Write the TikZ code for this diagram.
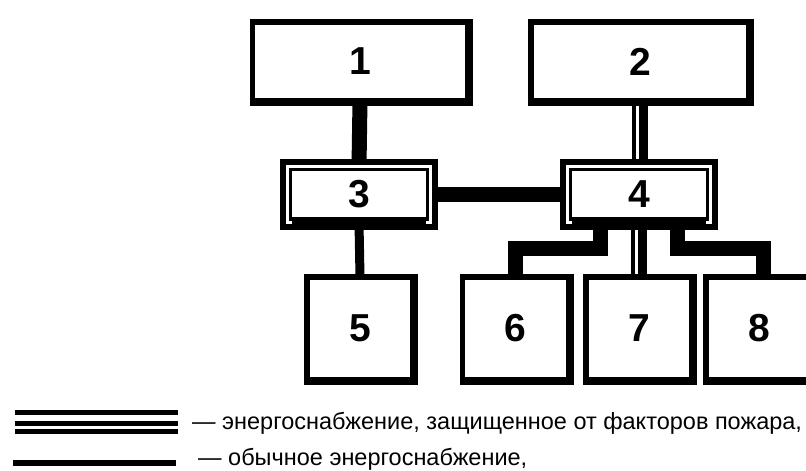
\documentclass[tikz,border=0pt]{standalone}
\usepackage{fontspec}
\setmainfont{Liberation Sans}
\usetikzlibrary{backgrounds}

\tikzset{
  unit/.style={draw, fill=white, line width=5.5pt, inner sep=0pt, outer sep=0pt,
    minimum width=106pt, minimum height=103pt, font=\fontsize{39}{39}\selectfont\bfseries},
  source/.style={unit, minimum width=215pt, minimum height=79pt},
  panel/.style={draw, fill=white, line width=3pt, double=white, double distance=3pt,
    inner sep=0pt, outer sep=0pt, minimum width=143pt, minimum height=56pt,
    font=\fontsize{39}{39}\selectfont\bfseries},
  feed/.style={line width=15pt},
  thin feed/.style={line width=9pt},
  twin/.style={line width=16pt, postaction={draw=white, line width=3pt, transform canvas={xshift=-3pt}}},
  legend/.style={inner sep=0pt, anchor=base west, font=\fontsize{23.5}{23.5}\selectfont}
}

\begin{document}
\begin{tikzpicture}[x=1pt,y=-1pt]
\useasboundingbox (0,0) rectangle (806,471);

% sources
\node[source] (n1) at (360,61.5) {1};
\node[source, minimum width=218pt] (n2) at (640,61.5) {2};

% switchboards
\node[panel] (n3) at (359,194.5) {3};
\node[panel] (n4) at (639,194.5) {4};
\foreach \n in {n3,n4}{
  \draw[line width=3pt] ([xshift=-6pt,yshift=-6pt]\n.south west) rectangle ([xshift=6pt,yshift=6pt]\n.north east);
  \fill ([xshift=4.5pt,yshift=-7.5pt]\n.south west) rectangle ([xshift=-4.5pt,yshift=5.5pt]\n.south east);
}

% consumers
\node[unit] (n5) at (360,328.5) {5};
\node[unit] (n6) at (515.5,328.5) {6};
\node[unit] (n7) at (639,328.5) {7};
\node[unit] (n8) at (759,328.5) {8};

% heavier right and lower edges
\foreach \n in {n1,n2,n5,n6,n7,n8}
  \draw[line width=2.5pt] ([xshift=4pt,yshift=2.75pt]\n.north east) -- ([xshift=4pt,yshift=-4pt]\n.south east)
    -- ([xshift=-2.75pt,yshift=-4pt]\n.south west);

\begin{scope}[on background layer]
\draw[feed] (n1.south) -- (n3.north);
\draw[twin] (n2.south) -- (n4.north -| n2.south);
\draw[feed] (n3.east) -- (n4.west);
\draw[thin feed] (n3.south) -- (n5.north);
\draw[feed] ([xshift=-39pt]n4.south) |- (n6.north |- 0,248) -- (n6.north);
\draw[twin] (n4.south) -- (n7.north);
\draw[feed] ([xshift=38pt]n4.south) |- ([xshift=4pt]n8.north |- 0,248) -- ([xshift=4pt]n8.north);
\end{scope}

% legend
\foreach \y in {412.5,423,431.5}
  \draw[line width=5pt] (15,\y) -- (178,\y);
\draw[line width=5.5pt] (13,463) -- (176,463);
\node[legend] (t1) at (192,429) {— энергоснабжение, защищенное от факторов пожара,};
\node[legend] (t2) at (198,465) {— обычное энергоснабжение,};

\end{tikzpicture}
\end{document}
